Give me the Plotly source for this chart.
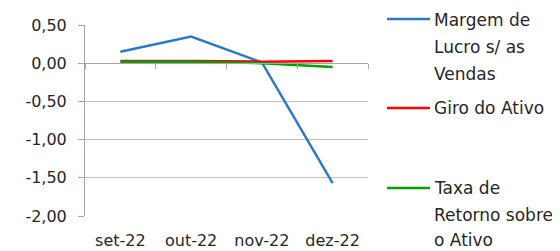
import plotly.graph_objects as go

categories = ["set-22", "out-22", "nov-22", "dez-22"]
margem_lucro = [0.15, 0.35, 0.01, -1.57]
giro_ativo = [0.03, 0.03, 0.02, 0.03]
taxa_retorno = [0.02, 0.02, 0.00, -0.05]
y_ticks = [0.5, 0.0, -0.5, -1.0, -1.5, -2.0]
y_tick_labels = ["0,50", "0,00", "-0,50", "-1,00", "-1,50", "-2,00"]

colors = ["#2a7ac6", "#ff0000", "#00a000"]

OFF = 8  # default page body margin
W, H = 560 - OFF, 251 - OFF
# plot area in screen pixels
L, R, T, B = 85, 368, 25, 216
FONT = "DejaVu Sans"

def px_x(px):
    return (px - L) / (R - L)

def px_y(py):
    return (B - py) / (B - T)

fig = go.Figure()
for vals, c in zip([margem_lucro, giro_ativo, taxa_retorno], colors):
    fig.add_trace(go.Scatter(x=categories, y=vals, mode="lines",
                             line=dict(color=c, width=2.5), showlegend=False,
                             hoverinfo="skip"))
# helper trace to carry the axis at zero (invisible)
fig.add_trace(go.Scatter(x=categories, y=taxa_retorno, xaxis="x2", mode="lines",
                         line=dict(width=0), opacity=0, showlegend=False, hoverinfo="skip"))

# Manual legend
legend_lines = [
    (19, ["Margem de", "Lucro s/ as", "Vendas"], [20, 47, 74]),
    (108, ["Giro do Ativo"], [108]),
    (188, ["Taxa de", "Retorno sobre", "o Ativo"], [188, 214.5, 240]),
]
for (ly, texts, tys), c in zip(legend_lines, colors):
    fig.add_shape(type="line", xref="paper", yref="paper",
                  x0=px_x(387), x1=px_x(430), y0=px_y(ly), y1=px_y(ly),
                  line=dict(color=c, width=2.5))
    for t, ty in zip(texts, tys):
        fig.add_annotation(text=t, xref="paper", yref="paper", x=px_x(432), y=px_y(ty),
                           xanchor="left", yanchor="middle", showarrow=False,
                           font=dict(family=FONT, size=17, color="#262626"))

fig.update_layout(
    width=W, height=H,
    margin=dict(l=L - OFF, r=W - (R - OFF), t=T - OFF, b=H - (B - OFF), pad=0, autoexpand=False),
    paper_bgcolor="white", plot_bgcolor="white",
    font=dict(family=FONT, size=16, color="#262626"),
    xaxis=dict(type="category", categoryorder="array", categoryarray=categories,
               range=[-0.5, 3.5], showgrid=False, showline=False, zeroline=False,
               ticks="", ticklabelstandoff=13, automargin=False,
               tickfont=dict(family=FONT, size=16, color="#262626")),
    xaxis2=dict(type="category", categoryorder="array", categoryarray=categories,
                overlaying="x", matches="x", anchor="free", position=0.8,
                showgrid=False, showline=True, linecolor="#a6a6a6", linewidth=1,
                ticks="outside", tickson="boundaries", ticklen=5, tickcolor="#a6a6a6",
                showticklabels=False, zeroline=False, automargin=False),
    yaxis=dict(range=[-2, 0.5], tickmode="array", tickvals=y_ticks, ticktext=y_tick_labels,
               showgrid=True, gridcolor="#bfbfbf", gridwidth=1,
               showline=True, linecolor="#a6a6a6", linewidth=1,
               ticks="outside", ticklen=6, tickcolor="#a6a6a6",
               zeroline=False, ticklabelstandoff=8, automargin=False,
               tickfont=dict(family=FONT, size=16, color="#262626")),
)

fig.write_html("out.html")
